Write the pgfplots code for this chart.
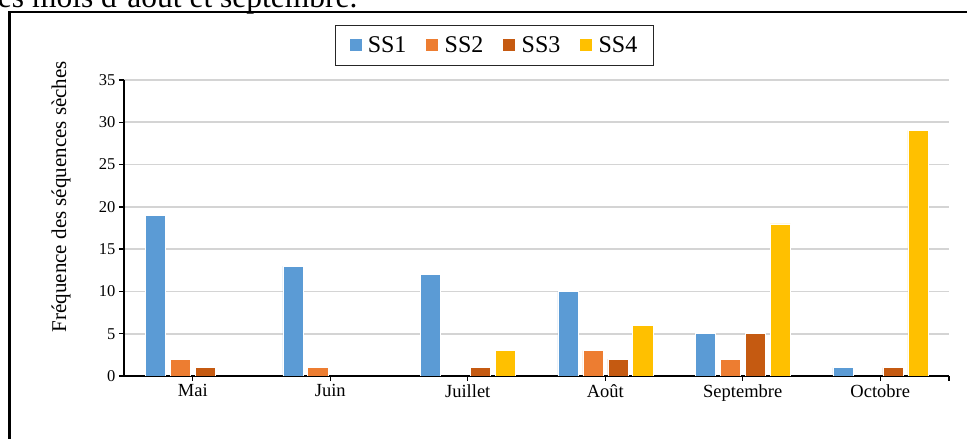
\documentclass[border=0pt]{standalone}
\usepackage{fontspec}
\setmainfont{Liberation Serif}
\usepackage{pgfplots}
\pgfplotsset{compat=1.18}

\definecolor{ssone}{HTML}{5B9BD5}
\definecolor{sstwo}{HTML}{ED7D31}
\definecolor{ssthree}{HTML}{C55A11}
\definecolor{ssfour}{HTML}{FFC000}
\definecolor{gridgray}{HTML}{D4D4D4}

\begin{document}
\begin{tikzpicture}
\useasboundingbox (0pt,0pt) rectangle (967pt,439pt);
% last line of the preceding paragraph, cut by the page edge
\node[anchor=base west, inner sep=0pt, font=\fontsize{31.5}{36}\selectfont]
  at (-11pt,431.5pt) {les mois d'août et septembre.};
% frame around the figure
\draw[line width=2.5pt] (9.5pt,-5pt) -- (9.5pt,427pt) -- (980pt,427pt);

\begin{axis}[
  at={(124pt,63pt)}, anchor=south west,
  scale only axis, width=825pt, height=296pt,
  xmin=-0.5, xmax=5.5, ymin=0, ymax=35,
  ytick={0,5,...,35},
  xtick={0,...,5},
  xticklabels={Mai,Juin,Juillet,Août,Septembre,Octobre},
  extra x ticks={5.5}, extra x tick labels={},
  extra x tick style={grid=none},
  axis x line*=bottom, axis y line*=left,
  axis line style={black, line width=2pt},
  tick align=outside, major tick length=5pt,
  tick style={black, line width=1.3pt},
  ymajorgrids,
  major grid style={gridgray, line width=1.6pt},
  /pgf/number format/assume math mode=true,
  yticklabel style={font=\fontsize{16.5}{18}\selectfont},
  xticklabel style={font=\fontsize{18.5}{20}\selectfont},
  ylabel={Fréquence des séquences sèches},
  ylabel style={at={(axis description cs:-0.0764,0.606)}, anchor=center,
    font=\fontsize{21}{24}\selectfont},
  legend columns=4,
  legend style={at={(0.449,1.1166)}, anchor=center,
    draw=black!85, line width=0.8pt,
    font=\fontsize{24}{26}\selectfont,
    inner xsep=14pt, inner ysep=9pt,
    /tikz/every even column/.append style={column sep=18pt}},
  legend image code/.code={\fill[#1, draw=none] (0pt,-6pt) rectangle (12pt,6pt);
    \path (16pt,0pt);},
]
\addplot[ybar, bar width=0.1455, bar shift=-0.2727, fill=ssone, draw=white, line width=0.5pt]
  coordinates {(0,19) (1,13) (2,12) (3,10) (4,5) (5,1)};
\addplot[ybar, bar width=0.1455, bar shift=-0.0909, fill=sstwo, draw=white, line width=0.5pt]
  coordinates {(0,2) (1,1) (3,3) (4,2)};
\addplot[ybar, bar width=0.1455, bar shift=0.0909, fill=ssthree, draw=white, line width=0.5pt]
  coordinates {(0,1) (2,1) (3,2) (4,5) (5,1)};
\addplot[ybar, bar width=0.1455, bar shift=0.2727, fill=ssfour, draw=white, line width=0.5pt]
  coordinates {(2,3) (3,6) (4,18) (5,29)};
\legend{SS1,SS2,SS3,SS4}
\end{axis}
\end{tikzpicture}
\end{document}
